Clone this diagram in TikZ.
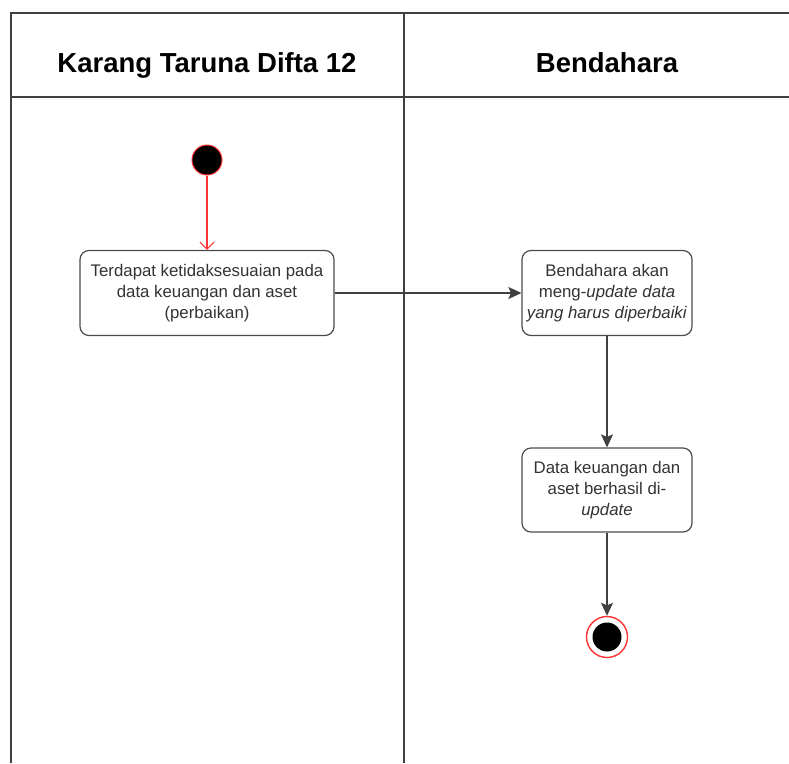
\documentclass[tikz,border=0pt]{standalone}
\usepackage{fontspec}
\setmainfont{Liberation Sans}
\usetikzlibrary{arrows.meta,positioning}

\tikzset{
  lane/.style={draw=black!75, line width=1.3pt},
  act/.style={draw=black!70, line width=1.2pt, rounded corners=9pt, fill=white,
    minimum width=254pt, minimum height=85pt, align=center, inner sep=1pt,
    font=\fontsize{16.8}{21}\selectfont, text=black!80},
  flow/.style={draw=black!75, line width=1.2pt, -{Stealth[length=13pt,width=12pt,inset=2.5pt]}},
  lanetitle/.style={font=\fontsize{27.5}{30}\selectfont\bfseries, anchor=base}
}

\begin{document}
\begin{tikzpicture}[x=1pt,y=-1pt]
\useasboundingbox (0,0) rectangle (789,763);
% swimlanes
\draw[lane] (11,763) -- (11,13) -- (789,13);
\draw[lane] (11,97) -- (789,97);
\draw[lane] (404,13) -- (404,763);
\node[lanetitle] (lkiri) at (207,72) {Karang Taruna Difta 12};
\node[lanetitle] (lkanan) at (607,72) {Bendahara};

% start / end
\node[circle, fill=black, draw=red!80, line width=1pt, minimum size=30pt, inner sep=0pt] (start) at (207,160) {};
\node[circle, draw=red!80, line width=1.4pt, minimum size=41pt, inner sep=0pt] (stop) at (607,637) {};
\node[circle, fill=black, minimum size=29pt, inner sep=0pt] (stopdot) at (stop.center) {};

% activities
\node[act] (cek) at (207,293) {Terdapat ketidaksesuaian pada\\data keuangan dan aset\\(perbaikan)};
\node[act, minimum width=170pt] (ubah) at (607,293) {Bendahara akan\\meng-\textit{update data}\\\textit{yang harus diperbaiki}};
\node[act, minimum width=170pt, minimum height=84pt] (hasil) at (607,490) {Data keuangan dan\\aset berhasil di-\\\textit{update}};

% flows
\draw[red!80, line width=1.1pt, -{Straight Barb[length=7pt,width=14pt]}] (start) -- (cek);
\draw[flow] (cek) -- (ubah);
\draw[flow] (ubah) -- (hasil);
\draw[flow] (hasil) -- (stop);
\end{tikzpicture}
\end{document}
